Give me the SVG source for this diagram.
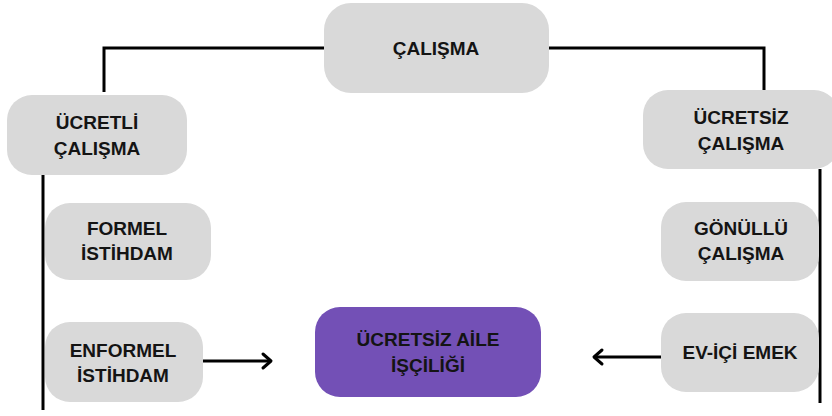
<svg xmlns="http://www.w3.org/2000/svg" width="832" height="416" viewBox="0 0 832 416">
<style>
.box{fill:#d9d9d9;}
.hl{fill:#7350b6;}
.t{font-family:"Liberation Sans",Arial,sans-serif;font-weight:bold;font-size:19px;fill:#141414;text-anchor:middle;}
.ln{fill:none;stroke:#000;stroke-width:3;}
.ar{fill:none;stroke:#000;stroke-width:3;stroke-linejoin:round;stroke-linecap:round;}
</style>
<rect width="832" height="416" fill="#ffffff"/>
<g id="connectors">
<polyline class="ln" points="104,92 104,48 324,48"/>
<polyline class="ln" points="549,48 764,48 764,90"/>
<line class="ln" x1="43" y1="175" x2="43" y2="410"/>
<line class="ln" x1="820" y1="169" x2="820" y2="403"/>
<line class="ln" x1="203" y1="361" x2="270" y2="361"/>
<path class="ar" d="M263,354 L271,361 L263,368"/>
<line class="ln" x1="661" y1="357" x2="595" y2="357"/>
<path class="ar" d="M602,350 L594,357 L602,364"/>
</g>
<g id="calisma">
<rect class="box" x="324" y="3" width="225" height="90" rx="27"/>
<text class="t" x="436" y="55">ÇALIŞMA</text>
</g>
<g id="ucretli">
<rect class="box" x="7" y="95" width="180" height="80" rx="25"/>
<text class="t" x="97" y="129">ÜCRETLİ</text>
<text class="t" x="97" y="155">ÇALIŞMA</text>
</g>
<g id="ucretsiz">
<rect class="box" x="643" y="90" width="196" height="79" rx="25"/>
<text class="t" x="741" y="124">ÜCRETSİZ</text>
<text class="t" x="741" y="150">ÇALIŞMA</text>
</g>
<g id="formel">
<rect class="box" x="45" y="203" width="166" height="77" rx="25"/>
<text class="t" x="127" y="235">FORMEL</text>
<text class="t" x="127" y="260">İSTİHDAM</text>
</g>
<g id="enformel">
<rect class="box" x="45" y="322" width="158" height="80" rx="25"/>
<text class="t" x="123" y="357">ENFORMEL</text>
<text class="t" x="123" y="382">İSTİHDAM</text>
</g>
<g id="gonullu">
<rect class="box" x="661" y="202" width="158" height="79" rx="25"/>
<text class="t" x="741" y="235">GÖNÜLLÜ</text>
<text class="t" x="741" y="260">ÇALIŞMA</text>
</g>
<g id="evici">
<rect class="box" x="661" y="313" width="158" height="79" rx="25"/>
<text class="t" x="740" y="359">EV-İÇİ EMEK</text>
</g>
<g id="aile">
<rect class="hl" x="315" y="307" width="226" height="90" rx="25"/>
<text class="t" x="428" y="346">ÜCRETSİZ AİLE</text>
<text class="t" x="428" y="372">İŞÇİLİĞİ</text>
</g>
</svg>
